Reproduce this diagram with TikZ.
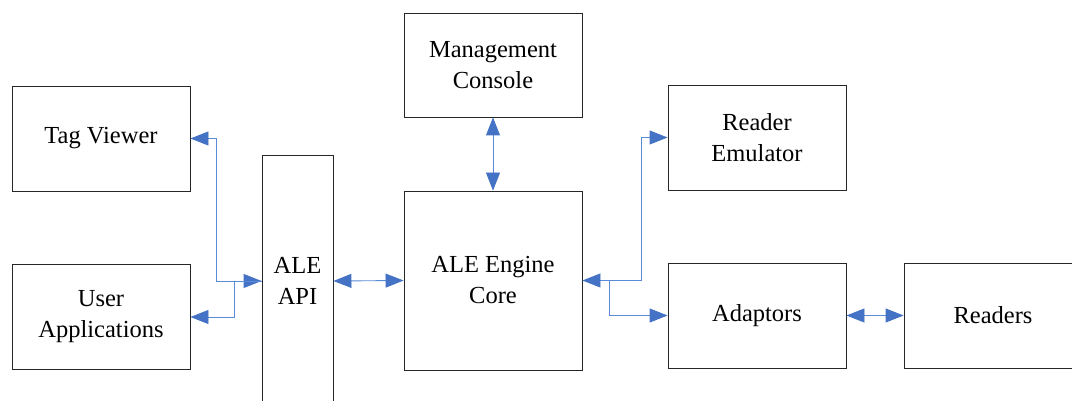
\documentclass[tikz,border=0pt]{standalone}
\usepackage{fontspec}
\setmainfont{Liberation Serif}
\usetikzlibrary{arrows.meta}
\definecolor{arrowblue}{HTML}{4472C4}
\definecolor{lineblue}{HTML}{5B8AD6}
\tikzset{
  blk/.style={draw=black!85, line width=0.9pt, rectangle, align=center, inner sep=0pt,
    font=\fontsize{24.5}{31}\selectfont},
  tip/.style={},
  conn/.style={draw=lineblue, line width=0.9pt,
    arrows={Triangle[length=18pt,width=14pt,fill=arrowblue,color=arrowblue]-Triangle[length=18pt,width=14pt,fill=arrowblue,color=arrowblue]}},
  conn1/.style={draw=lineblue, line width=0.9pt,
    arrows={Triangle[length=18pt,width=14pt,fill=arrowblue,color=arrowblue]-}},
  conn2/.style={draw=lineblue, line width=0.9pt,
    arrows={-Triangle[length=18pt,width=14pt,fill=arrowblue,color=arrowblue]}},
}
\begin{document}
\begin{tikzpicture}[x=1pt,y=-1pt]
\useasboundingbox (0,0) rectangle (1072,401);
\clip (0,0) rectangle (1072,401);
\fill[white] (0,0) rectangle (1072,401);
\node[blk, minimum width=178pt, minimum height=105pt] (tag) at (101,138.5) {Tag Viewer};
\node[blk, minimum width=178pt, minimum height=105pt] (user) at (101,317) {User\\Applications};
\node[blk, minimum width=71pt, minimum height=252pt] (api) at (297.5,281) {ALE\\API};
\node[blk, minimum width=178pt, minimum height=179pt] (core) at (493,280.5) {ALE Engine\\Core};
\node[blk, minimum width=178pt, minimum height=104pt] (mgmt) at (493,65) {Management\\Console};
\node[blk, minimum width=178pt, minimum height=105pt] (emu) at (757,137.5) {Reader\\Emulator};
\node[blk, minimum width=178pt, minimum height=105pt] (adapt) at (757,315.5) {Adaptors};
\node[blk, minimum width=178pt, minimum height=105pt] (readers) at (993,315.5) {Readers};

\draw[conn] (tag.east) -- ++(26,0) |- (api.west);
\draw[conn1] (user.east) -- ++(44,0) |- (api.west);
\draw[conn] (api.east) -- (core.west);
\draw[conn] (mgmt.south) -- (core.north);
\draw[conn] (core.east) -- ++(59,0) |- (emu.west);
\draw[conn2] ([xshift=27pt]core.east) |- (adapt.west);
\draw[conn] (adapt.east) -- (readers.west);
\end{tikzpicture}
\end{document}
